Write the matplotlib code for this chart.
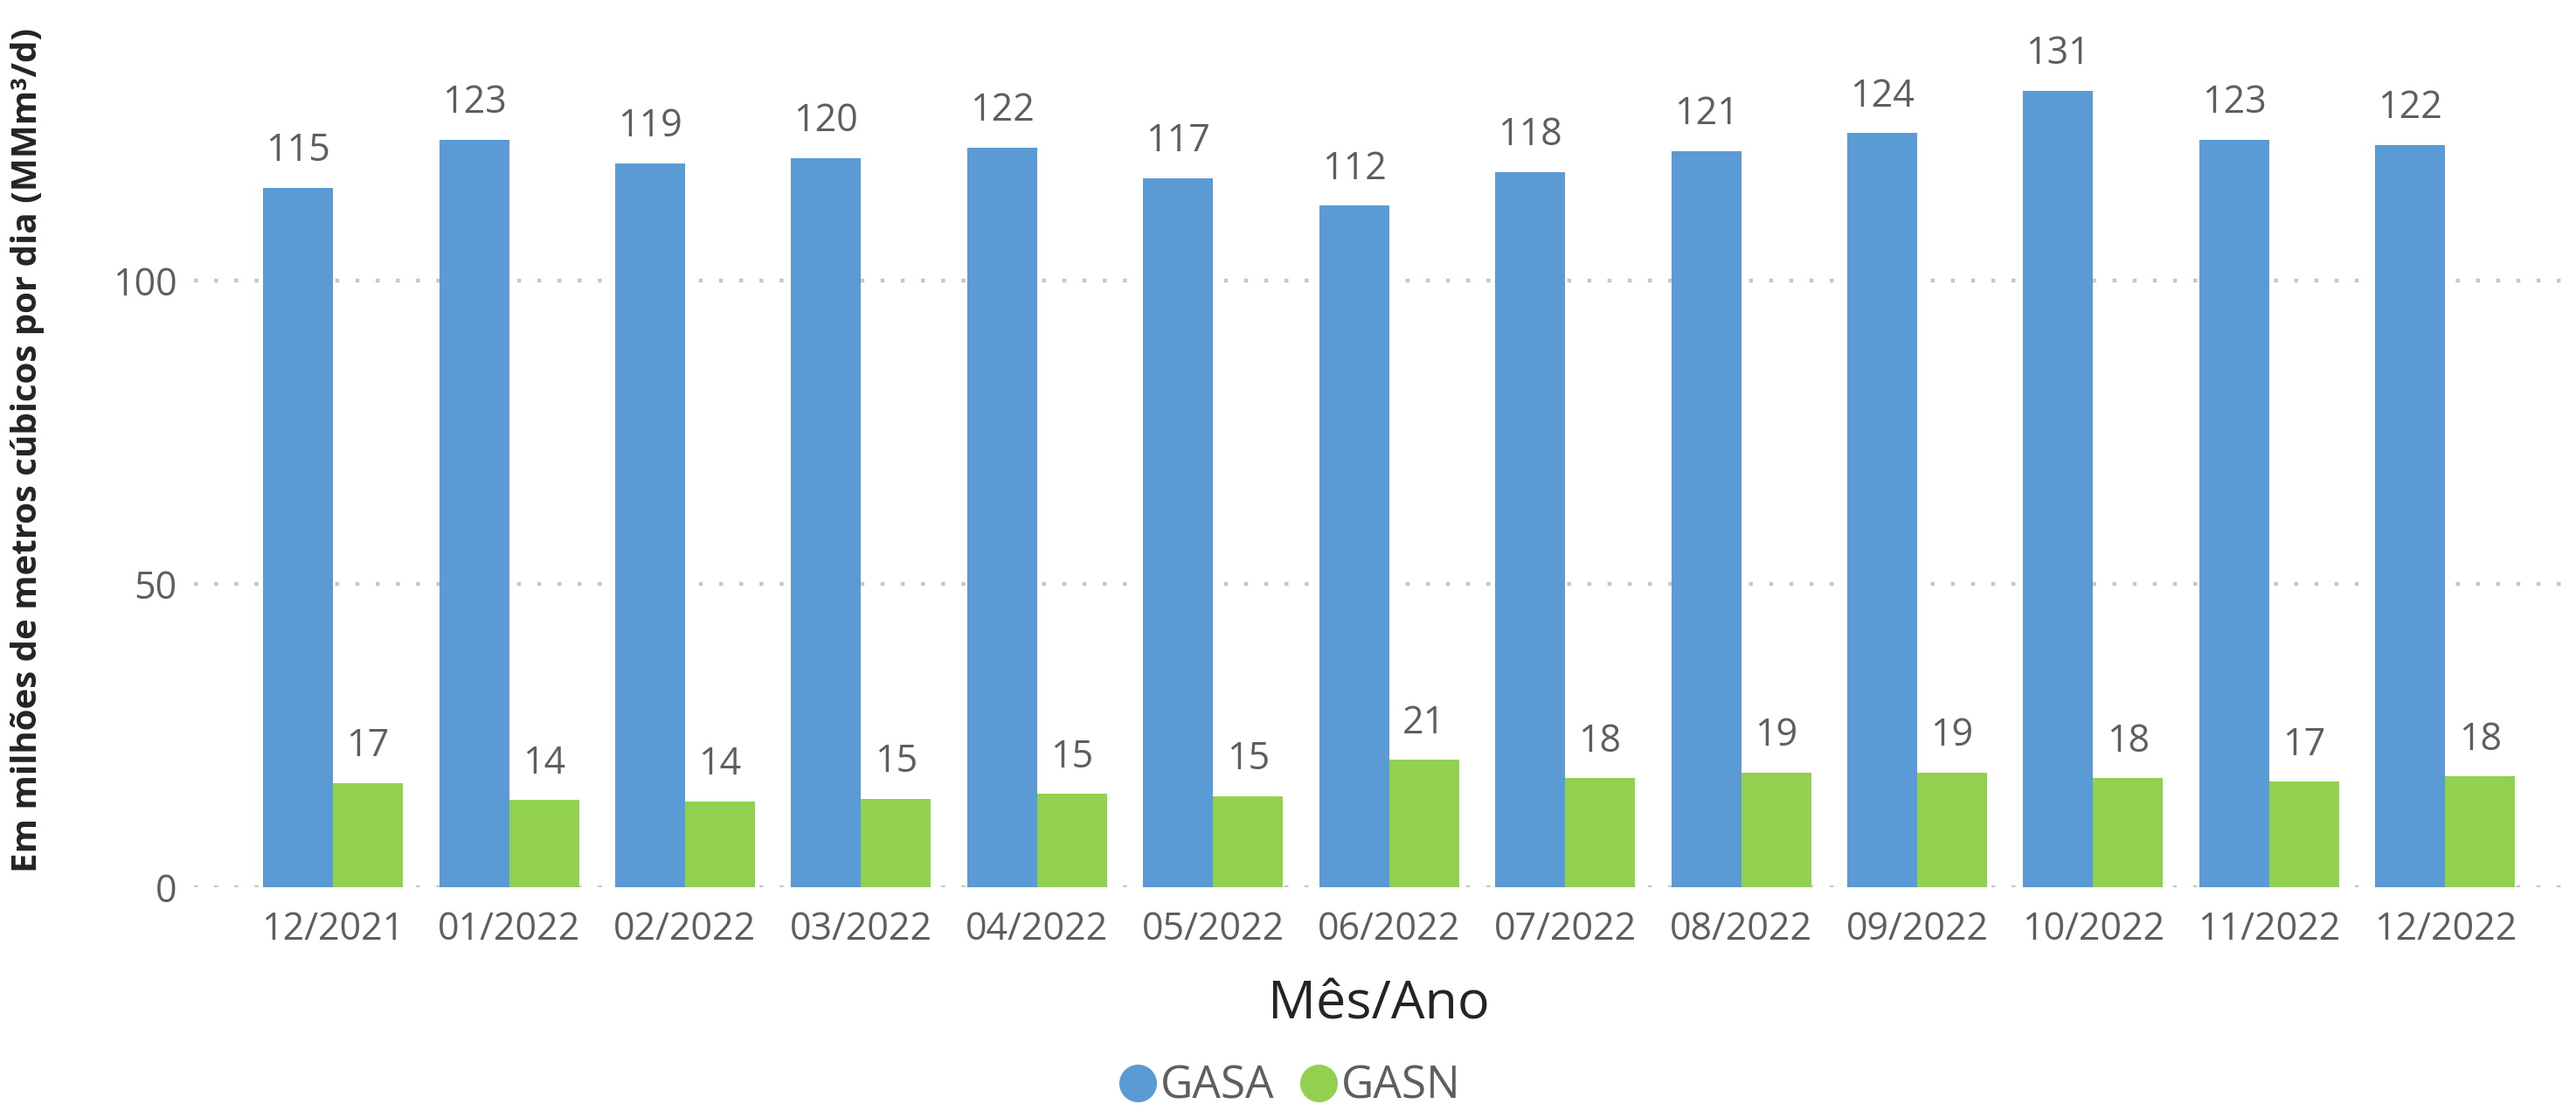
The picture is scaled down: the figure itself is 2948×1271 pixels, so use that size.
import numpy as np
import matplotlib
matplotlib.use('Agg')
import matplotlib.pyplot as plt
from matplotlib.lines import Line2D

# data
meses = ['12/2021', '01/2022', '02/2022', '03/2022', '04/2022', '05/2022', '06/2022',
         '07/2022', '08/2022', '09/2022', '10/2022', '11/2022', '12/2022']
gasa = [115.4, 123.3, 119.4, 120.3, 122.0, 117.0, 112.4, 118.0, 121.4, 124.4, 131.4, 123.3, 122.4]
gasn = [17.2, 14.4, 14.2, 14.6, 15.4, 15.0, 21.0, 18.0, 18.9, 18.9, 18.0, 17.4, 18.3]
series = ['GASA', 'GASN']
cores = ['#5B9BD5', '#92D050']

plt.rcParams['font.family'] = ['Open Sans', 'DejaVu Sans']

fig = plt.figure(figsize=(29.48, 12.71), dpi=100)
ax = fig.add_axes([0.0753, 0.2014, 0.9197, 0.764])

x = np.arange(len(meses))
w = 0.397
b1 = ax.bar(x - w/2, gasa, width=w, color=cores[0], zorder=3)
b2 = ax.bar(x + w/2, gasn, width=w, color=cores[1], zorder=3)

# value labels
for bars, vals in [(b1, gasa), (b2, gasn)]:
    for r, v in zip(bars, vals):
        ax.annotate(f'{round(v):d}', (r.get_x() + r.get_width()/2, v),
                    xytext=(0, 22), textcoords='offset points',
                    ha='center', va='baseline', fontsize=31, color='#605E5C')

ax.set_xlim(-0.79, 12.67)
ax.set_ylim(0, 140)
ax.set_yticks([0, 50, 100])
ax.set_xticks(x)
ax.set_xticklabels(meses)
ax.tick_params(axis='both', length=0, labelsize=31, labelcolor='#605E5C')
ax.tick_params(axis='x', pad=19)
ax.tick_params(axis='y', pad=14)

ax.grid(axis='y', color='#C8C6C4', linewidth=3.2, linestyle=(0, (1, 4.2)), zorder=0)
for s in ax.spines.values():
    s.set_visible(False)

ax.set_xlabel('Mês/Ano', fontsize=44, color='#252423', labelpad=24)
ax.set_ylabel('Em milhões de metros cúbicos por dia (MMm³/d)', fontsize=29,
              fontweight='bold', color='#252423')
ax.yaxis.set_label_coords(-0.063, 0.515)

# legend
handles = [Line2D([0], [0], marker='o', linestyle='none', markersize=30,
                  markerfacecolor=c, markeredgecolor=c) for c in cores]
fig.legend(handles, series, loc='center', bbox_to_anchor=(0.5, 0.022), ncol=2,
           frameon=False, fontsize=37, labelcolor='#605E5C',
           handletextpad=0.0, columnspacing=0.5, handlelength=1.0)

fig.savefig('out.png', dpi=100)
